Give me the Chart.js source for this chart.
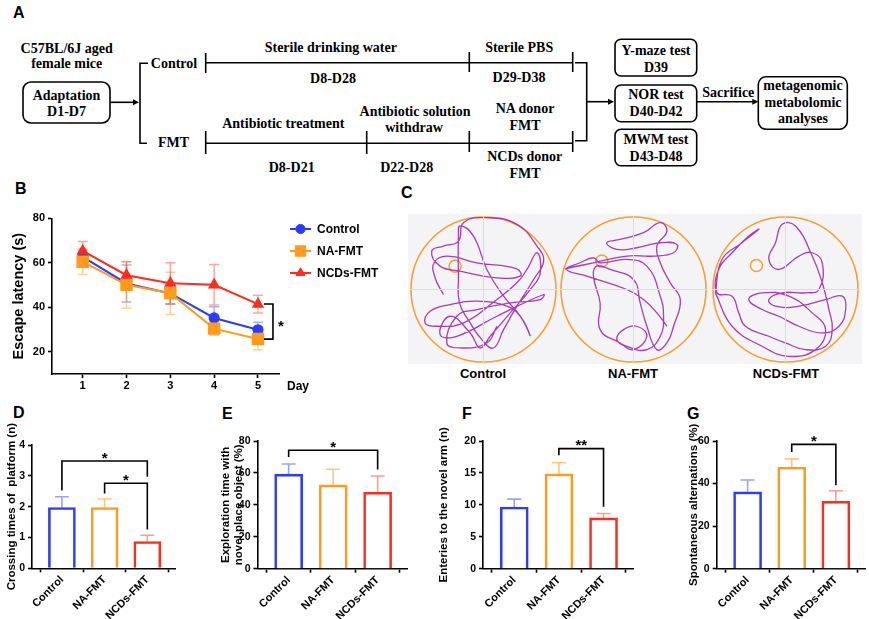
<!DOCTYPE html>
<html><head><meta charset="utf-8">
<script src="https://cdn.jsdelivr.net/npm/chart.js@4.4.1/dist/chart.umd.min.js"></script>
<style>
body{margin:0;background:#fff;width:869px;height:619px;overflow:hidden;position:relative;font-family:'Liberation Sans',Arial,sans-serif;}
.abs{position:absolute;}
.plab{position:absolute;font:bold 16px 'Liberation Sans',Arial,sans-serif;line-height:1;color:#000;}
.clab{position:absolute;font:bold 13px 'Liberation Sans',Arial,sans-serif;transform:translate(-50%,-50%);white-space:nowrap;}
canvas{display:block;position:absolute;}
svg text{font-family:'Liberation Serif','Times New Roman',serif;font-weight:bold;font-size:14px;}
</style></head><body>

<svg class="abs" style="left:0;top:0" width="869" height="200">
 <g stroke="#000" stroke-width="1.6" fill="none">
  <rect x="23" y="82" width="87" height="41" rx="8"/>
  <line x1="110" y1="102.3" x2="135" y2="102.3"/>
  <polyline points="148,63.3 140,63.3 140,143.3 147,143.3"/>
  <line x1="205.7" y1="62.7" x2="572.7" y2="62.7"/>
  <line x1="205.7" y1="53" x2="205.7" y2="73"/>
  <line x1="469.3" y1="52" x2="469.3" y2="72"/>
  <line x1="572.7" y1="52" x2="572.7" y2="72"/>
  <line x1="205.7" y1="143.3" x2="572.7" y2="143.3"/>
  <line x1="205.7" y1="131" x2="205.7" y2="154"/>
  <line x1="366.7" y1="131" x2="366.7" y2="154"/>
  <line x1="469.3" y1="131" x2="469.3" y2="152"/>
  <line x1="572.7" y1="131" x2="572.7" y2="152"/>
  <polyline points="575,62.7 586.7,62.7 586.7,140.7 575,140.7"/>
  <line x1="586.7" y1="101.7" x2="609" y2="101.7"/>
  <rect x="615" y="39.3" width="81.7" height="36.7" rx="6"/>
  <rect x="615" y="85" width="81.7" height="36.7" rx="6"/>
  <rect x="615" y="129.3" width="81.7" height="36.4" rx="6"/>
  <line x1="696.7" y1="101.7" x2="754" y2="101.7"/>
  <rect x="758.3" y="76.7" width="89" height="52.6" rx="8"/>
 </g>
 <g fill="#000">
  <polygon points="139,102.3 133,99.3 133,105.3"/>
  <polygon points="614,101.7 608,98.7 608,104.7"/>
  <polygon points="758.3,101.7 752.3,98.7 752.3,104.7"/>
 </g>
 <g fill="#000" text-anchor="middle">
  <text x="66.7" y="53">C57BL/6J aged</text>
  <text x="66.7" y="68">female mice</text>
  <text x="66.5" y="99.5">Adaptation</text>
  <text x="66.5" y="116">D1-D7</text>
  <text x="174" y="68">Control</text>
  <text x="173.5" y="146.7">FMT</text>
  <text x="330.8" y="52">Sterile drinking water</text>
  <text x="333" y="83.3">D8-D28</text>
  <text x="519.2" y="51.7">Sterile PBS</text>
  <text x="519" y="81.7">D29-D38</text>
  <text x="283.3" y="128">Antibiotic treatment</text>
  <text x="291.7" y="171.7">D8-D21</text>
  <text x="415" y="115.5">Antibiotic solution</text>
  <text x="414" y="131.7">withdraw</text>
  <text x="406.7" y="171.7">D22-D28</text>
  <text x="525" y="113.3">NA donor</text>
  <text x="525" y="130">FMT</text>
  <text x="524.7" y="161.3">NCDs donor</text>
  <text x="525" y="178.3">FMT</text>
  <text x="656" y="55">Y-maze test</text>
  <text x="656" y="72.3">D39</text>
  <text x="656" y="99.3">NOR test</text>
  <text x="656" y="116">D40-D42</text>
  <text x="656" y="144.3">MWM test</text>
  <text x="656" y="161">D43-D48</text>
  <text x="728.3" y="96.7">Sacrifice</text>
  <text x="803" y="90">metagenomic</text>
  <text x="803" y="106.7">metabolomic</text>
  <text x="803" y="122.5">analyses</text>
 </g>
</svg>

<div class="plab" style="left:13px;top:5px">A</div>
<div class="plab" style="left:15px;top:181px">B</div>
<div class="plab" style="left:401px;top:185px">C</div>
<div class="plab" style="left:13px;top:405px">D</div>
<div class="plab" style="left:222px;top:406px">E</div>
<div class="plab" style="left:462px;top:406px">F</div>
<div class="plab" style="left:687px;top:406px">G</div>

<div class="abs" style="left:408px;top:214px;width:454px;height:150px;background:#f4f4f6"></div>
<canvas id="poolCtrl" width="147" height="147" style="left:410px;top:216px"></canvas>
<canvas id="poolNA" width="147" height="147" style="left:560px;top:216px"></canvas>
<canvas id="poolNCD" width="147" height="147" style="left:712px;top:216px"></canvas>
<div class="clab" style="left:483px;top:373px">Control</div>
<div class="clab" style="left:633px;top:373px">NA-FMT</div>
<div class="clab" style="left:786px;top:373px">NCDs-FMT</div>

<canvas id="chartB" width="400" height="200" style="left:0;top:200px"></canvas>
<canvas id="chartD" width="215" height="219" style="left:0;top:400px"></canvas>
<canvas id="chartE" width="215" height="219" style="left:215px;top:400px"></canvas>
<canvas id="chartF" width="215" height="219" style="left:430px;top:400px"></canvas>
<canvas id="chartG" width="224" height="219" style="left:645px;top:400px"></canvas>

<script>
// ---------------- DATA ----------------
const days = [1, 2, 3, 4, 5];
const ctrlLatency = [62.7, 50.7, 46.2, 35.2, 29.9];
const ctrlLatencySem = [3.0, 8.3, 4.8, 5.0, 3.4];
const naLatency = [60.5, 50.1, 46.3, 30.4, 25.7];
const naLatencySem = [5.8, 10.5, 9.5, 3.0, 4.8];
const ncdLatency = [65.3, 54.4, 50.8, 50.1, 41.4];
const ncdLatencySem = [4.3, 6.1, 9.2, 9.1, 4.0];
const latencyTicks = [20, 40, 60, 80];
const latencySig = [5, 41.5, 25.7, '*'];   // day, top value, bottom value, label

const groups = ['Control', 'NA-FMT', 'NCDs-FMT'];
const crossingMean = [1.97, 1.97, 0.87];
const crossingSem = [0.35, 0.28, 0.20];
const crossingSig = [[0, 2, 3.48, 2.52, 2.97, '*'], [1, 2, 2.76, 2.43, 1.26, '*']];
const explorationMean = [59.2, 52.5, 47.9];
const explorationSem = [6.4, 9.8, 10.2];
const explorationSig = [[0, 2, 74.2, 70.0, 62.1, '*']];
const entriesMean = [9.65, 14.85, 7.95];
const entriesSem = [1.25, 1.75, 0.70];
const entriesSig = [[1, 2, 18.8, 17.76, 9.7, '**']];
const alternationMean = [36.1, 47.8, 31.7];
const alternationSem = [5.6, 3.8, 4.9];
const alternationSig = [[1, 2, 58.4, 54.8, 39.2, '*']];

// swim paths (pool coords 0..440, centre 220,220)
const pathCtrl = [[100,235],[75,185],[72,140],[110,120],[200,140],[320,158],[330,180],[260,185],[150,165],[90,150],[65,105],[100,90],[145,75],[160,20],[230,5],[320,25],[380,90],[400,135],[370,190],[320,270],[280,340],[250,395],[215,370],[180,320],[148,260],[145,180],[145,60],[150,30],[190,60],[230,160],[280,240],[330,300],[360,360],[330,300],[290,270],[200,255],[120,265],[60,285],[45,320],[80,330],[160,320],[260,250],[320,200],[350,160],[380,110],[390,170],[360,220],[300,290],[240,360],[210,395],[180,350],[120,300],[90,355],[140,360],[260,300],[400,235],[390,250],[300,260],[200,280],[140,300],[110,380],[150,395],[230,380],[260,330]];
const pathNA = [[15,158],[100,140],[200,120],[280,120],[340,110],[350,85],[300,80],[230,95],[170,100],[140,80],[180,70],[250,50],[300,20],[320,45],[290,90],[300,140],[330,200],[360,250],[340,330],[320,380],[290,400],[260,330],[240,260],[220,190],[150,160],[110,150],[100,180],[120,260],[120,340],[180,380],[220,400],[260,360],[230,330],[190,340],[170,370],[200,390],[260,400],[300,360],[310,300],[300,240],[260,150],[200,130],[120,140],[100,125],[60,140],[20,160],[80,180],[200,220],[250,250],[290,290],[320,330]];
const pathNCD = [[10,230],[30,130],[90,80],[140,40],[110,60],[60,110],[20,160],[15,230],[60,240],[80,290],[100,330],[170,360],[220,380],[280,400],[340,390],[360,340],[350,280],[330,200],[300,120],[250,30],[210,25],[190,80],[170,130],[200,160],[260,120],[300,110],[330,140],[320,220],[280,230],[210,230],[170,250],[190,270],[260,270],[340,250],[390,240],[400,280],[380,330],[330,350],[260,330],[200,300],[150,280],[110,250],[150,230],[230,240],[300,290],[340,340],[310,400],[230,420],[150,390],[60,330],[10,230]];
const platformCtrl = [135, 150];
const platformNA = [125, 135];
const platformNCD = [133, 148];

// ---------------- STYLE ----------------
const F = "'Liberation Sans', Arial, sans-serif";
const BLUE = '#2b3cff', ORANGE = '#ff9a1c', RED = '#ff2b1c';
const groupColors = [BLUE, ORANGE, RED];
const groupErr = ['#98a2ff', '#ffc680', '#ff9a90'];
Chart.defaults.font.family = F;
Chart.defaults.color = '#000';

const errorBarPlugin = {
  id: 'errbars',
  beforeDatasetsDraw(chart) {
    const {ctx} = chart; const y = chart.scales.y;
    chart.data.datasets.forEach((ds, i) => {
      if (!ds.errors) return;
      const meta = chart.getDatasetMeta(i);
      ctx.save(); ctx.lineWidth = ds.errWidth || 1.5;
      ds.data.forEach((pt, j) => {
        const v = pt.y, e = ds.errors[j], px = meta.data[j].x;
        const col = Array.isArray(ds.errColor) ? ds.errColor[j] : ds.errColor;
        ctx.strokeStyle = col;
        const cw = ds.capW / 2;
        const yt = y.getPixelForValue(v + e), yb = y.getPixelForValue(ds.errBoth ? v - e : v);
        ctx.beginPath(); ctx.moveTo(px, yb); ctx.lineTo(px, yt);
        ctx.moveTo(px - cw, yt); ctx.lineTo(px + cw, yt);
        if (ds.errBoth) { ctx.moveTo(px - cw, yb); ctx.lineTo(px + cw, yb); }
        ctx.stroke();
      });
      ctx.restore();
    });
  }
};

const sigPlugin = {
  id: 'sigbr',
  afterDatasetsDraw(chart) {
    const ds = chart.data.datasets[0]; if (!ds.sig) return;
    const {ctx} = chart; const x = chart.scales.x, y = chart.scales.y;
    ctx.save(); ctx.strokeStyle = '#000'; ctx.lineWidth = 1.6; ctx.fillStyle = '#000';
    ds.sig.forEach(b => {
      const [i0, i1, yl, ya, yb, label] = b;
      const x0 = x.getPixelForValue(i0), x1 = x.getPixelForValue(i1), py = y.getPixelForValue(yl);
      ctx.beginPath(); ctx.moveTo(x0, y.getPixelForValue(ya)); ctx.lineTo(x0, py); ctx.lineTo(x1, py); ctx.lineTo(x1, y.getPixelForValue(yb)); ctx.stroke();
      ctx.font = 'bold 15px ' + F; ctx.textAlign = 'center'; ctx.textBaseline = 'alphabetic';
      ctx.fillText(label, (x0 + x1) / 2, py + 1.5);
    });
    ctx.restore();
  }
};

function axisCommon(extra) {
  return Object.assign({
    grid: {display: true, drawOnChartArea: false, drawTicks: true, tickLength: 4, tickColor: '#000', tickWidth: 1.6},
    border: {display: true, color: '#000', width: 1.6}
  }, extra);
}

function makeBar(id, means, sems, sig, yMax, yStep, title, cfg) {
  return new Chart(document.getElementById(id), {
    type: 'bar',
    data: {datasets: [{
      data: means.map((v, i) => ({x: i, y: v})),
      errors: sems, errColor: groupErr, capW: 14, errWidth: 1.6, sig: sig,
      backgroundColor: '#fff', borderColor: groupColors, borderWidth: 2.6,
      barThickness: cfg.barW, borderSkipped: 'bottom'
    }]},
    options: {
      responsive: false, animation: false, events: [],
      layout: {padding: {left: cfg.padL, top: cfg.padT, right: cfg.padR, bottom: 0}},
      plugins: {legend: {display: false}, tooltip: {enabled: false}},
      scales: {
        x: axisCommon({type: 'linear', min: -0.7, max: 2.66, offset: false,
          afterBuildTicks: s => { s.ticks = groups.map((g, i) => ({value: i})); },
          afterFit: s => { s.height = cfg.xH; },
          ticks: {callback: v => groups[v], maxRotation: 45, minRotation: 45, autoSkip: false, color: '#000', padding: 1,
                  font: {family: F, weight: 'bold', size: 11}}}),
        y: axisCommon({min: 0, max: yMax,
          afterBuildTicks: s => { const t = []; for (let v = 0; v <= yMax + 1e-9; v += yStep) t.push({value: v}); s.ticks = t; },
          afterFit: s => { s.width = cfg.yW; },
          ticks: {color: '#000', padding: 3, font: {family: F, weight: 'bold', size: 10.5}},
          title: {display: true, text: title, color: '#000', padding: {top: 0, bottom: 0},
                  font: {family: F, weight: 'bold', size: cfg.tSize}}})
      }
    },
    plugins: [errorBarPlugin, sigPlugin]
  });
}

makeBar('chartD', crossingMean, crossingSem, crossingSig, 4, 1, 'Crossing times of  platform (n)',
  {padL: 5, yW: 27, padT: 45, padR: 39.5, xH: 50.7, barW: 27, tSize: 11.5});
makeBar('chartE', explorationMean, explorationSem, explorationSig, 80, 20, ['Exploration time with', 'novel place object (%)'],
  {padL: 3.6, yW: 38.9, padT: 41, padR: 23, xH: 50.3, barW: 28, tSize: 11.5});
makeBar('chartF', entriesMean, entriesSem, entriesSig, 20, 5, 'Enteries to the novel arm (n)',
  {padL: 7, yW: 46, padT: 41, padR: 12, xH: 50.3, barW: 28, tSize: 11.5});
makeBar('chartG', alternationMean, alternationSem, alternationSig, 60, 20, 'Spontaneous alternations (%)',
  {padL: 42, yW: 29.7, padT: 41, padR: 4, xH: 50.3, barW: 28, tSize: 11.5});

// ---------------- Panel B ----------------
const legendPlugin = {
  id: 'lgd',
  afterDraw(chart) {
    const {ctx} = chart;
    chart.data.datasets.forEach((ds, i) => {
      const yy = 29 + 22 * i;
      ctx.save();
      ctx.strokeStyle = ds.borderColor; ctx.lineWidth = 2;
      ctx.beginPath(); ctx.moveTo(290, yy); ctx.lineTo(311, yy); ctx.stroke();
      ctx.fillStyle = ds.backgroundColor; ctx.strokeStyle = ds.borderColor; ctx.lineWidth = 1;
      Chart.helpers.drawPoint(ctx, {pointStyle: ds.pointStyle, radius: ds.pointRadius, rotation: 0, borderWidth: 1}, 300.5, yy);
      ctx.fillStyle = '#000'; ctx.font = 'bold 12px ' + F; ctx.textAlign = 'left'; ctx.textBaseline = 'middle';
      ctx.fillText(ds.label, 317, yy + 0.5);
      ctx.restore();
    });
    ctx.save(); ctx.fillStyle = '#000'; ctx.font = 'bold 12px ' + F; ctx.textBaseline = 'middle';
    ctx.fillText('Day', 287, 187); ctx.restore();
    // significance bracket
    const x = chart.scales.x, y = chart.scales.y;
    const [d, top, bot, lab] = latencySig;
    const bx = x.getPixelForValue(d) + 15, sx = x.getPixelForValue(d) + 6;
    const yt = y.getPixelForValue(top), yb = y.getPixelForValue(bot);
    ctx.save(); ctx.strokeStyle = '#000'; ctx.lineWidth = 1.6;
    ctx.beginPath(); ctx.moveTo(sx, yt); ctx.lineTo(bx, yt); ctx.lineTo(bx, yb); ctx.lineTo(sx, yb); ctx.stroke();
    ctx.fillStyle = '#000'; ctx.font = 'bold 15px ' + F; ctx.textAlign = 'center'; ctx.textBaseline = 'alphabetic';
    ctx.fillText(lab, bx + 8, (yt + yb) / 2 + 9);
    ctx.restore();
  }
};

function lineDs(label, vals, sems, color, err, style, r, order) {
  return {label, data: days.map((d, i) => ({x: d, y: vals[i]})), errors: sems, errBoth: true, errColor: err, capW: 10, errWidth: 1.5,
          borderColor: color, backgroundColor: color, pointBorderColor: color, pointBackgroundColor: color,
          borderWidth: 2, pointStyle: style, pointRadius: r, tension: 0, order};
}
new Chart(document.getElementById('chartB'), {
  type: 'line',
  data: {datasets: [
    lineDs('Control', ctrlLatency, ctrlLatencySem, BLUE, 'rgba(60,80,255,0.45)', 'circle', 4.6, 2),
    lineDs('NA-FMT', naLatency, naLatencySem, ORANGE, 'rgba(255,160,40,0.5)', 'rect', 7.4, 1),
    lineDs('NCDs-FMT', ncdLatency, ncdLatencySem, RED, 'rgba(255,60,40,0.45)', 'triangle', 5.2, 0)
  ]},
  options: {
    responsive: false, animation: false, events: [],
    layout: {autoPadding: false, padding: {left: 10.3, top: 18.3, right: 121, bottom: 0}},
    plugins: {legend: {display: false}, tooltip: {enabled: false}},
    scales: {
      x: axisCommon({type: 'linear', min: 0.3, max: 5.48,
        afterBuildTicks: s => { s.ticks = days.map(v => ({value: v})); },
        afterFit: s => { s.height = 26; },
        ticks: {color: '#000', padding: 1, font: {family: F, weight: 'bold', size: 11}}}),
      y: axisCommon({min: 10, max: 80,
        afterBuildTicks: s => { s.ticks = latencyTicks.map(v => ({value: v})); },
        afterFit: s => { s.width = 41.7; },
        ticks: {color: '#000', padding: 3, font: {family: F, weight: 'bold', size: 11}},
        title: {display: true, text: 'Escape latency (s)', color: '#000', padding: {top: 0, bottom: 0},
                font: {family: F, weight: 'bold', size: 14.5}}})
    }
  },
  plugins: [errorBarPlugin, legendPlugin]
});

// ---------------- Panel C ----------------
function makePool(id, path, platform) {
  new Chart(document.getElementById(id), {
    type: 'scatter',
    data: {datasets: [
      {data: [{x: 0, y: 220}, {x: 440, y: 220}], showLine: true, borderColor: '#dcdce6', borderWidth: 1, pointRadius: 0},
      {data: [{x: 220, y: 0}, {x: 220, y: 440}], showLine: true, borderColor: '#dcdce6', borderWidth: 1, pointRadius: 0},
      {data: path.map(p => ({x: p[0], y: p[1]})), showLine: true, borderColor: 'rgba(160,40,175,0.9)', borderWidth: 1.3,
       pointRadius: 0, tension: 0.45, clip: false},
      {data: [{x: platform[0], y: platform[1]}], pointRadius: c => c.chart.width * 0.041,
       pointBorderColor: '#f7a030', pointBackgroundColor: 'rgba(0,0,0,0)', pointBorderWidth: 1.5, clip: false},
      {data: [{x: 220, y: 220}], pointRadius: c => c.chart.width / 2 - 1,
       pointBorderColor: '#f7a030', pointBackgroundColor: 'rgba(0,0,0,0)', pointBorderWidth: 1.6, clip: false}
    ]},
    options: {
      responsive: false, animation: false, events: [],
      layout: {autoPadding: false, padding: 0},
      plugins: {legend: {display: false}, tooltip: {enabled: false}},
      scales: {x: {type: 'linear', min: 0, max: 440, display: false},
               y: {type: 'linear', min: 0, max: 440, reverse: true, display: false}}
    }
  });
}
makePool('poolCtrl', pathCtrl, platformCtrl);
makePool('poolNA', pathNA, platformNA);
makePool('poolNCD', pathNCD, platformNCD);
</script>
</body></html>
